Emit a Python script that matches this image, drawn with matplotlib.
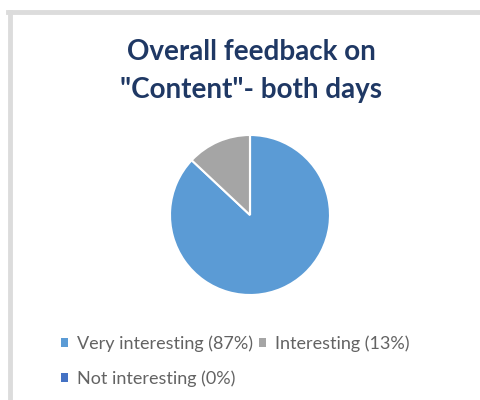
import matplotlib.pyplot as plt
from matplotlib.lines import Line2D
from matplotlib.patches import Patch

plt.rcParams['font.family'] = ['Lato', 'DejaVu Sans']

# Feedback shares
labels = ['Very interesting', 'Interesting', 'Not interesting']
shares = [87, 13, 0]
colors = ['#5b9bd5', '#a5a5a5', '#4472c4']

fig = plt.figure(figsize=(4.81, 4.00), dpi=100)
fig.patch.set_facecolor('white')

# chart area border (top and left edges)
W, H = 481, 400
fig.add_artist(Line2D([8 / W, 1], [1 - 12 / H, 1 - 12 / H], color='#dcdcdc', lw=3.5))
fig.add_artist(Line2D([10 / W, 10 / W], [0, 1 - 12 / H], color='#dcdcdc', lw=3.5))

fig.text(251 / W, 1 - 52 / H, 'Overall feedback on', ha='center', va='center',
         fontsize=20, fontweight='bold', color='#1f3864')
fig.text(251 / W, 1 - 90 / H, '"Content"- both days', ha='center', va='center',
         fontsize=20, fontweight='bold', color='#1f3864')

# pie: centre ~ (250, 215), radius ~ 80 px
cx, cy, r = 250, 215, 80
ax = fig.add_axes([(cx - r) / W, 1 - (cy + r) / H, 2 * r / W, 2 * r / H])
ax.pie(shares, colors=colors, startangle=90, counterclock=False,
       wedgeprops=dict(edgecolor='white', linewidth=1.5))
ax.set_xlim(-1, 1)
ax.set_ylim(-1, 1)
ax.set_aspect('equal')
ax.axis('off')

handles = [Patch(facecolor=c, edgecolor='none') for c in colors]
texts = [f'{l} ({v}%)' for l, v in zip(labels, shares)]
# column-wise fill: put "Not interesting" under the first entry
order = [0, 2, 1]
fig.legend([handles[i] for i in order], [texts[i] for i in order],
           ncol=2, loc='upper left', bbox_to_anchor=(52 / W, 1 - 326 / H),
           frameon=False, fontsize=13, labelcolor='#636363', borderpad=0,
           handlelength=0.4, handleheight=0.4, handletextpad=0.5,
           columnspacing=0.3, labelspacing=1.05)

fig.savefig('out.png', dpi=100, facecolor='white')
